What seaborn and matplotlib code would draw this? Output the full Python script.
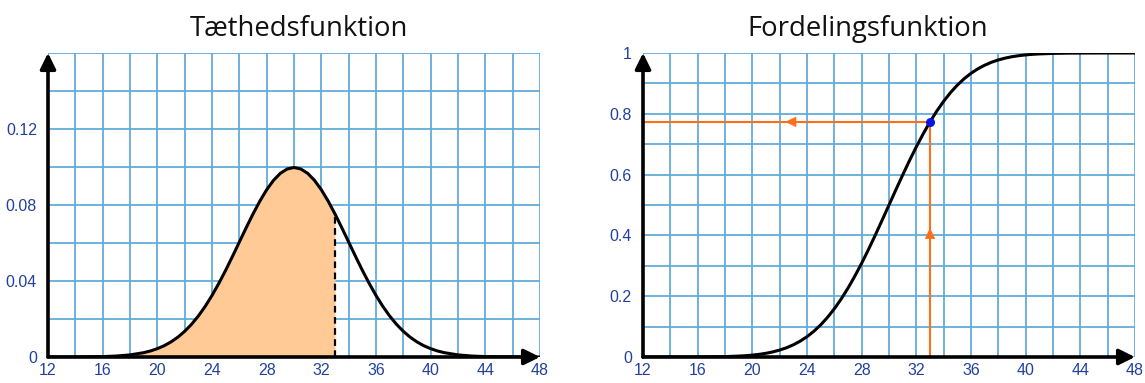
import matplotlib
matplotlib.use("Agg")
import matplotlib.pyplot as plt
from matplotlib.ticker import MultipleLocator
import seaborn as sns
import pandas as pd

# ---------------- data ----------------
x_vals = [12, 13, 14, 15, 16, 17, 18, 19, 19.5, 20, 20.5, 21, 21.5, 22, 22.5, 23, 23.5,
          24, 24.5, 25, 25.5, 26, 26.5, 27, 27.5, 28, 28.5, 29, 29.5, 30,
          30.5, 31, 31.5, 32, 32.5, 33, 33.5, 34, 34.5, 35, 35.5, 36, 36.5, 37,
          37.5, 38, 38.5, 39, 39.5, 40, 40.5, 41, 42, 43, 44, 45, 46, 47, 48]

density = [0.000004, 0.000012, 0.000033, 0.000088, 0.000218, 0.000507, 0.00111,
           0.00227, 0.00318, 0.00438, 0.00594, 0.00794, 0.01043, 0.01350, 0.01720,
           0.02157, 0.02663, 0.03238, 0.03876, 0.04566, 0.05297, 0.06049, 0.06802,
           0.07529, 0.08204, 0.08802, 0.09297, 0.09667, 0.09896, 0.09974,
           0.09896, 0.09667, 0.09297, 0.08802, 0.08204, 0.07529, 0.06802, 0.06049,
           0.05297, 0.04566, 0.03876, 0.03238, 0.02663, 0.02157, 0.01720, 0.01350,
           0.01043, 0.00794, 0.00594, 0.00438, 0.00318, 0.00227, 0.00111, 0.000507,
           0.000218, 0.000088, 0.000033, 0.000012, 0.000004]

cumulative = [0.000003, 0.00001, 0.00003, 0.00009, 0.00023, 0.00058, 0.00135,
              0.0030, 0.0043, 0.0062, 0.0088, 0.0122, 0.0168, 0.0228, 0.0304,
              0.0401, 0.0521, 0.0668, 0.0846, 0.1056, 0.1303, 0.1587, 0.1908,
              0.2266, 0.2660, 0.3085, 0.3538, 0.4013, 0.4503, 0.5,
              0.5497, 0.5987, 0.6462, 0.6915, 0.7340, 0.7734, 0.8092, 0.8413,
              0.8697, 0.8944, 0.9154, 0.9332, 0.9479, 0.9599, 0.9696, 0.9772,
              0.9832, 0.9878, 0.9912, 0.9938, 0.9957, 0.9970, 0.99865, 0.99942,
              0.99977, 0.99991, 0.99997, 0.99999, 1.0]

x_marked = 33
x_ticks = [12, 16, 20, 24, 28, 32, 36, 40, 44, 48]
y_ticks_left = [0, 0.04, 0.08, 0.12]
y_labels_left = ["0", "0.04", "0.08", "0.12"]
y_ticks_right = [0, 0.2, 0.4, 0.6, 0.8, 1.0]
y_labels_right = ["0", "0.2", "0.4", "0.6", "0.8", "1"]
titles = ["Tæthedsfunktion", "Fordelingsfunktion"]

df = pd.DataFrame({"x": x_vals, "f": density, "F": cumulative})

# ---------------- style ----------------
sns.set_style("white")
plt.rcParams["font.family"] = ["Liberation Sans", "DejaVu Sans"]

GRID = "#62ACDA"
TICK = "#22419F"
ORANGE = "#FF6F1A"
SHADE = "#FFCA96"

fig = plt.figure(figsize=(11.45, 3.83), dpi=100)
axL = fig.add_axes([48 / 1145, 1 - 357 / 383, (540 - 48) / 1145, (357 - 53) / 383])
axR = fig.add_axes([643 / 1145, 1 - 357 / 383, (1135 - 643) / 1145, (357 - 53) / 383])


def style_axis(ax, ymax, ystep, yticks, ylabels):
    ax.set_xlim(12, 48)
    ax.set_ylim(0, ymax)
    for s in ax.spines.values():
        s.set_visible(False)
    ax.xaxis.set_minor_locator(MultipleLocator(2))
    ax.yaxis.set_minor_locator(MultipleLocator(ystep))
    ax.set_xticks(x_ticks)
    ax.set_xticklabels([str(t) for t in x_ticks])
    ax.set_yticks(yticks)
    ax.set_yticklabels(ylabels)
    ax.grid(True, which="both", color=GRID, lw=1.3, zorder=0)
    ax.set_axisbelow(True)
    ax.tick_params(which="both", length=0, labelsize=11.5, labelcolor=TICK)
    ax.tick_params(axis="x", pad=4)
    ax.tick_params(axis="y", pad=8)
    ax.set_xlabel("")
    ax.set_ylabel("")
    arrow = dict(arrowstyle="-|>,head_length=0.95,head_width=0.47", lw=2.6,
                 color="black", mutation_scale=10, shrinkA=0, shrinkB=0)
    ax.annotate("", xy=(48, 0), xytext=(12, 0), arrowprops=arrow,
                annotation_clip=False, zorder=6)
    ax.annotate("", xy=(12, ymax), xytext=(12, 0), arrowprops=arrow,
                annotation_clip=False, zorder=6)


# ---------------- left: density ----------------
style_axis(axL, 0.16, 0.02, y_ticks_left, y_labels_left)
sub = df[df["x"] <= x_marked]
axL.fill_between(sub["x"], 0, sub["f"], color=SHADE, lw=0, zorder=2)
sns.lineplot(data=df, x="x", y="f", ax=axL, color="black", lw=2.2, zorder=4)
f_mark = df.loc[df["x"] == x_marked, "f"].iloc[0]
axL.plot([x_marked, x_marked], [0, f_mark], color="black", lw=1.6,
         ls=(0, (3, 2)), zorder=4)
axL.set_xlabel("")
axL.set_ylabel("")

# ---------------- right: cumulative ----------------
style_axis(axR, 1.0, 0.1, y_ticks_right, y_labels_right)
F_mark = df.loc[df["x"] == x_marked, "F"].iloc[0]
axR.plot([12, x_marked], [F_mark, F_mark], color=ORANGE, lw=1.5, zorder=3)
axR.plot([x_marked, x_marked], [0, F_mark], color=ORANGE, lw=1.5, zorder=3)
small = dict(arrowstyle="-|>,head_length=0.8,head_width=0.38",
             color=ORANGE, lw=0, mutation_scale=10, shrinkA=0, shrinkB=0)
axR.annotate("", xy=(22.4, F_mark), xytext=(23.4, F_mark), arrowprops=small, zorder=3)
axR.annotate("", xy=(x_marked, 0.425), xytext=(x_marked, 0.39), arrowprops=small, zorder=3)
sns.lineplot(data=df, x="x", y="F", ax=axR, color="black", lw=2.2, zorder=4)
axR.scatter([x_marked], [F_mark], s=30, color="#0A14E6", zorder=5)
axR.set_xlabel("")
axR.set_ylabel("")

# ---------------- titles ----------------
fig.text(299 / 1145, 1 - 29 / 383, titles[0], ha="center", va="center",
         fontsize=19.8, family=["Open Sans", "DejaVu Sans"], color="#111111")
fig.text(868 / 1145, 1 - 29 / 383, titles[1], ha="center", va="center",
         fontsize=19.8, family=["Open Sans", "DejaVu Sans"], color="#111111")

fig.savefig("out.png", dpi=100)
